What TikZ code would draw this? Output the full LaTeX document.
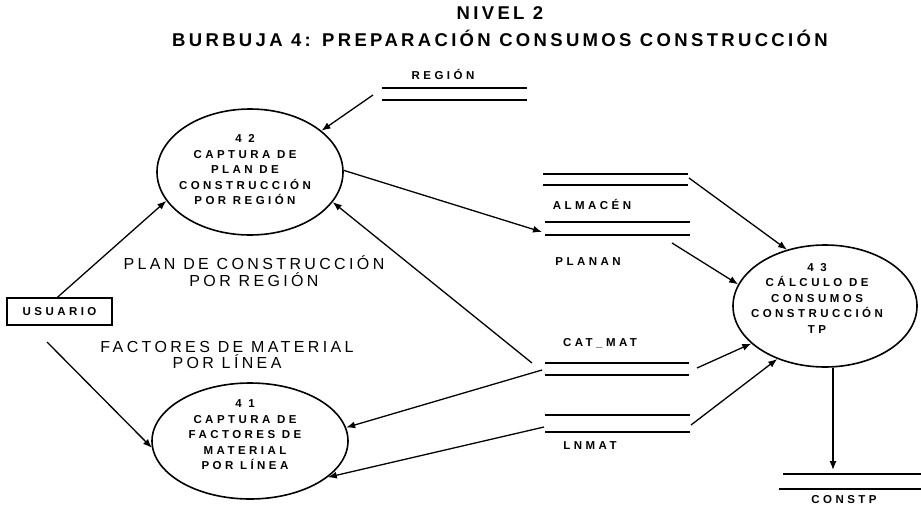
\documentclass[tikz,border=0pt]{standalone}
\usepackage{fontspec}
\setmainfont{Liberation Sans}
\newfontfamily\tfont[LetterSpace=18]{Liberation Sans}
\newfontfamily\sfont[LetterSpace=30]{Liberation Sans}
\newfontfamily\ffont[LetterSpace=21]{Liberation Sans}
\usetikzlibrary{shapes.geometric,arrows.meta}
\tikzset{
  ttl/.style={font=\tfont\bfseries\fontsize{18.5}{20}\selectfont, inner sep=0},
  sml/.style={font=\sfont\bfseries\fontsize{11.5}{15.5}\selectfont, inner sep=0, align=center},
  flowlbl/.style={font=\ffont\fontsize{16}{16.5}\selectfont, inner sep=0, align=center},
  proc/.style={ellipse, draw, line width=1.6pt, inner sep=0},
  storeline/.style={line width=1.7pt},
  flow/.style={line width=1.3pt, -{Latex[length=9pt,width=7pt]}},
  entity/.style={draw, line width=1.5pt, minimum width=105pt, minimum height=27pt, inner sep=0}
}
\begin{document}
\begin{tikzpicture}[x=1pt,y=-1pt]
\useasboundingbox (0,0) rectangle (921,509);
% titles
\node[ttl] (t1) at (500,13) {NIVEL 2};
\node[ttl] (t2) at (500,38) {BURBUJA 4: PREPARACIÓN CONSUMOS CONSTRUCCIÓN};
% processes
\node[proc, minimum width=186pt, minimum height=126pt] (p42) at (250,172) {};
\node[sml] (t42) at (245,170) {4 2\\CAPTURA DE\\PLAN DE\\CONSTRUCCIÓN\\POR REGIÓN};
\node[proc, minimum width=196pt, minimum height=116pt] (p41) at (250,441) {};
\node[sml] (t41) at (245,435) {4 1\\CAPTURA DE\\FACTORES DE\\MATERIAL\\POR LÍNEA};
\node[proc, minimum width=184pt, minimum height=122pt] (p43) at (825,306) {};
\node[sml] (t43) at (817,298) {4 3\\CÁLCULO DE\\CONSUMOS\\CONSTRUCCIÓN\\TP};
% entity
\node[entity, sml] (usr) at (59.5,311.5) {USUARIO};
% stores
\draw[storeline] (382,88) -- (527,88) (382,100) -- (527,100);
\node[sml] (sreg) at (443,74) {REGIÓN};
\draw[storeline] (543,174) -- (688,174) (543,185) -- (688,185);
\node[sml] (salm) at (592,204) {ALMACÉN};
\draw[storeline] (545,222) -- (690,222) (545,235) -- (690,235);
\node[sml] (spla) at (588,262) {PLANAN};
\node[sml] (scat) at (600,343) {CAT\_MAT};
\draw[storeline] (545,363) -- (689,363) (545,375) -- (689,375);
\draw[storeline] (545,415) -- (690,415) (545,432) -- (690,432);
\node[sml] (slnm) at (590,446) {LNMAT};
\draw[storeline] (783,474) -- (921,474) (779,489) -- (921,489);
\node[sml] (scon) at (844,500) {CONSTP};
% store anchors
\coordinate (regL) at (373,95);
\coordinate (plaIn) at (542,232);
\coordinate (almOut) at (689,178);
\coordinate (plaOut) at (672,243);
\coordinate (catA) at (532,363);
\coordinate (catB) at (542,370);
\coordinate (catOut) at (697,368);
\coordinate (lnmL) at (544,427);
\coordinate (lnmOut) at (691,425);
\coordinate (usrB) at (47,342);
\coordinate (conIn) at (833,470);
% flow labels
\node[flowlbl] (fl1) at (254,271) {PLAN DE CONSTRUCCIÓN\\POR REGIÓN};
\node[flowlbl] (fl2) at (227,355) {FACTORES DE MATERIAL\\POR LÍNEA};
% flows
\draw[flow] (regL) -- (p42.30);
\draw[flow] (p42.1) -- (plaIn);
\draw[flow] (almOut) -- (p43.124);
\draw[flow] (plaOut) -- (p43.166);
\draw[flow] (catA) -- (p42.340);
\draw[flow] (catB) -- (p41.8);
\draw[flow] (catOut) -- (p43.207);
\draw[flow] (lnmL) -- (p41.335);
\draw[flow] (lnmOut) -- (p43.228);
\draw[flow] ([xshift=-2pt]usr.north) -- (p42.199);
\draw[flow] (usrB) -- (p41.184);
\draw[flow] (conIn |- p43.south) -- (conIn);
\end{tikzpicture}
\end{document}
